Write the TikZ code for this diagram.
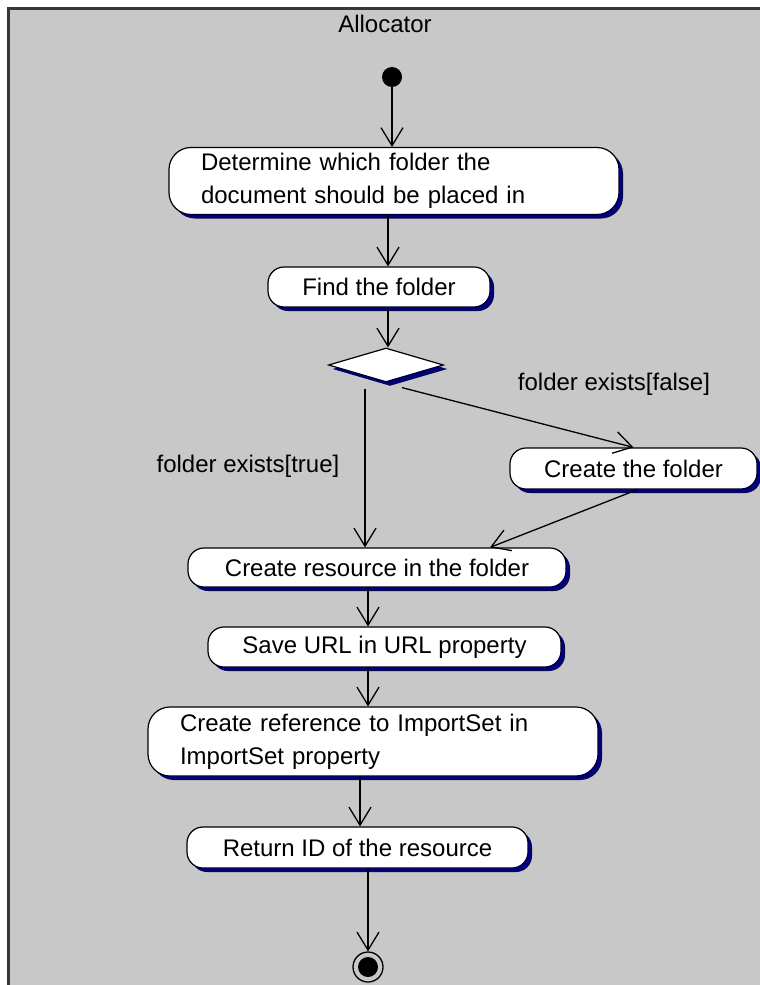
\documentclass[tikz,border=0pt]{standalone}
\usepackage{fontspec}
\setmainfont{Liberation Sans}
\usetikzlibrary{arrows.meta,shapes.geometric,shadows}
\definecolor{panel}{RGB}{200,200,200}
\definecolor{framecol}{RGB}{55,55,55}
\definecolor{shade}{RGB}{0,0,128}
\begin{document}
\begin{tikzpicture}[x=1pt,y=-1pt,
  font=\fontsize{24}{33}\selectfont,
  act/.style={draw=black, line width=1.2pt, fill=white, rounded corners=16pt,
    inner sep=0pt,
    drop shadow={shadow xshift=4pt, shadow yshift=-4pt, fill=shade, opacity=1}},
  tallact/.style={act, rounded corners=22pt, align=left, text width=386pt},
  decision/.style={diamond, draw=black, line width=1.2pt, fill=white,
    inner sep=0pt, minimum width=115pt, minimum height=34pt, aspect=3.4,
    drop shadow={shadow xshift=4pt, shadow yshift=-4pt, fill=shade, opacity=1}},
  flow/.style={draw=black, line width=1.3pt,
    -{Straight Barb[length=18pt,width=22pt,line width=1.3pt]}},
  lbl/.style={inner sep=0pt, text=black}]
\useasboundingbox (0,0) rectangle (760,985);
\clip (0,0) rectangle (760,985);
\fill[white] (0,0) rectangle (760,985);
% swimlane panel
\fill[panel] (8,8) rectangle (800,1020);
\draw[framecol, line width=3pt] (8.5,1020) -- (8.5,8.5) -- (800,8.5);

\node[lbl] (title) at (385,24) {Allocator};

% initial state
\node[circle, fill=black, minimum size=20pt, inner sep=0pt] (start) at (392,77) {};

% activities
\node[tallact, minimum width=450pt, minimum height=67pt] (n1) at (394,181)
  {Determine which folder the\\document should be placed in};
\node[act, minimum width=222pt, minimum height=40pt] (n2) at (379,287) {Find the folder};
\node[decision] (dia) at (386,365) {};
\node[act, minimum width=247pt, minimum height=41pt] (cf) at (633.5,468.5) {Create the folder};
\node[act, minimum width=378pt, minimum height=39pt] (cr) at (377,567.5) {Create resource in the folder};
\node[act, minimum width=353pt, minimum height=40pt] (su) at (384.5,647) {Save URL in URL property};
\node[tallact, minimum width=450pt, minimum height=69pt] (ref) at (373,741.5)
  {Create reference to ImportSet in\\ImportSet property};
\node[act, minimum width=341pt, minimum height=41pt] (ret) at (357.5,847.5) {Return ID of the resource};

% final state
\node[circle, draw=black, line width=1.3pt, minimum size=30pt, inner sep=0pt] (end) at (368,967) {};
\fill[black] (end.center) circle (10pt);

% guard labels
\node[lbl] (ltrue) at (248,466) {folder exists[true]};
\node[lbl] (lfalse) at (614,384) {folder exists[false]};

% transitions
\draw[flow] (start) -- (start |- n1.north);
\draw[flow] ([xshift=-6pt]n1.south) -- ([xshift=-6pt]n1.south |- n2.north);
\draw[flow] ([xshift=9pt]n2.south) -- ([xshift=9pt]n2.south |- dia.north);
\draw[flow] ([xshift=-21pt,yshift=-6pt]dia.south) -- ([xshift=-21pt]dia.south |- cr.north);
\draw[flow] ([xshift=16pt,yshift=-5pt]dia.south) -- (cf.north);
\draw[flow] ([xshift=4pt]cf.south) -- ([xshift=113pt]cr.north);
\draw[flow] ([xshift=-9pt]cr.south) -- ([xshift=-9pt]cr.south |- su.north);
\draw[flow] ([xshift=-16.5pt]su.south) -- ([xshift=-16.5pt]su.south |- ref.north);
\draw[flow] ([xshift=-13pt]ref.south) -- ([xshift=-13pt]ref.south |- ret.north);
\draw[flow] (end |- ret.south) -- (end);
\end{tikzpicture}
\end{document}
